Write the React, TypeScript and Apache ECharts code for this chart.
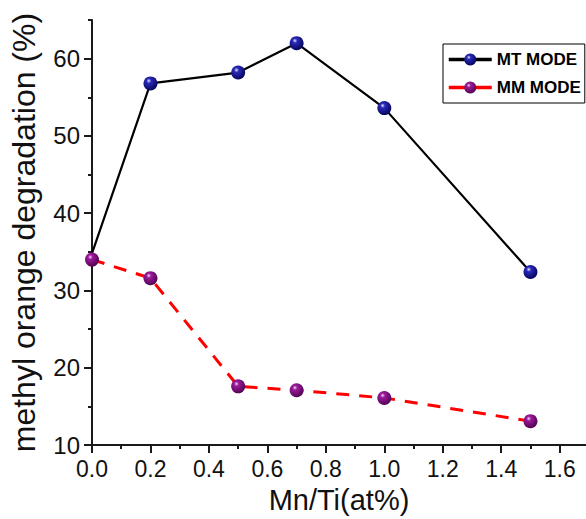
import React, { useEffect, useRef } from "react";
import * as echarts from "echarts";

const mtName = "MT MODE";
const mmName = "MM MODE";
const xValues = [0, 0.2, 0.5, 0.7, 1.0, 1.5];
const mtValues = [34.8, 56.8, 58.2, 62.0, 53.6, 32.4];
const mmValues = [34.0, 31.6, 17.6, 17.1, 16.1, 13.1];
const xMajorTicks = [0, 0.2, 0.4, 0.6, 0.8, 1.0, 1.2, 1.4, 1.6];
const xMinorTicks = [0.1, 0.3, 0.5, 0.7, 0.9, 1.1, 1.3, 1.5];
const yMajorTicks = [10, 20, 30, 40, 50, 60];
const yMinorTicks = [15, 25, 35, 45, 55, 65];

const FONT = 'Arial, "Liberation Sans", sans-serif';

export default function App() {
  const ref = useRef<HTMLDivElement>(null);
  useEffect(() => {
    document.body.style.margin = "0";
    const chart = echarts.init(ref.current!, null, { renderer: "svg" });
    const ball = (hi: string, mid: string, dark: string) =>
      new echarts.graphic.RadialGradient(0.38, 0.32, 0.75, [
        { offset: 0, color: hi },
        { offset: 0.22, color: mid },
        { offset: 1, color: dark },
      ]);
    const mtBall = ball("#e6e6ff", "#2a2ab8", "#000050");
    const mmBall = ball("#f4d8f4", "#9a1a9a", "#4a004a");
    const axisColor = "#1a1a1a";
    const xCommon = {
      type: "value" as const,
      min: 0,
      max: 1.69,
      position: "bottom" as const,
      splitLine: { show: false },
    };
    const yCommon = {
      type: "value" as const,
      min: 10,
      max: 65,
      position: "left" as const,
      splitLine: { show: false },
    };
    chart.setOption({
      animation: false,
      backgroundColor: "#ffffff",
      grid: { left: 90, right: 0, top: 20, bottom: 73 },
      legend: {
        orient: "vertical",
        left: 443,
        top: 44,
        padding: [7, 4, 7, 4],
        itemGap: 11,
        itemWidth: 43,
        itemHeight: 15,
        borderColor: "#000",
        borderWidth: 1,
        backgroundColor: "#fff",
        lineStyle: { width: 3.5, type: "solid" },
        textStyle: { fontFamily: FONT, fontSize: 17, fontWeight: "bold", color: "#000" },
        data: [
          { name: mtName, lineStyle: { type: "solid", color: "#000", width: 3.5 } },
          { name: mmName, lineStyle: { type: "solid", color: "#ff0000", width: 3.5 } },
        ],
      },
      xAxis: [
        {
          ...xCommon,
          name: "Mn/Ti(at%)",
          nameLocation: "middle",
          nameGap: 33,
          nameTextStyle: { fontFamily: FONT, fontSize: 29, color: "#111" },
          axisLine: { show: true, lineStyle: { color: axisColor, width: 2 } },
          axisTick: { show: true, length: 8, customValues: xMajorTicks, lineStyle: { color: axisColor, width: 2 } },
          axisLabel: {
            customValues: xMajorTicks,
            margin: 12,
            fontFamily: FONT,
            fontSize: 23,
            color: "#111",
            formatter: (v: number) => v.toFixed(1),
          },
        },
        {
          ...xCommon,
          axisLine: { show: false },
          axisTick: { show: true, length: 4, customValues: xMinorTicks, lineStyle: { color: axisColor, width: 2 } },
          axisLabel: { show: false },
        },
      ],
      yAxis: [
        {
          ...yCommon,
          name: "methyl orange degradation (%)",
          nameLocation: "middle",
          nameGap: 52,
          nameTextStyle: { fontFamily: FONT, fontSize: 32, color: "#111" },
          axisLine: { show: true, lineStyle: { color: axisColor, width: 2 } },
          axisTick: { show: true, length: 8, customValues: yMajorTicks, lineStyle: { color: axisColor, width: 2 } },
          axisLabel: {
            customValues: yMajorTicks,
            margin: 12,
            fontFamily: FONT,
            fontSize: 24,
            color: "#111",
          },
        },
        {
          ...yCommon,
          axisLine: { show: false },
          axisTick: { show: true, length: 4, customValues: yMinorTicks, lineStyle: { color: axisColor, width: 2 } },
          axisLabel: { show: false },
        },
      ],
      series: [
        {
          name: mtName,
          type: "line",
          xAxisIndex: 0,
          yAxisIndex: 0,
          data: xValues.map((x, i) =>
            i === 0 ? { value: [x, mtValues[i]], symbol: "none" } : [x, mtValues[i]]
          ),
          symbol: "circle",
          symbolSize: 14,
          lineStyle: { color: "#000", width: 2.2 },
          itemStyle: { color: mtBall },
          z: 2,
        },
        {
          name: mmName,
          type: "line",
          xAxisIndex: 0,
          yAxisIndex: 0,
          data: xValues.map((x, i) => [x, mmValues[i]]),
          symbol: "circle",
          symbolSize: 14,
          lineStyle: { color: "#ff0000", width: 3, type: [13, 10] },
          itemStyle: { color: mmBall },
          z: 3,
        },
      ],
    });
    return () => chart.dispose();
  }, []);
  return <div ref={ref} style={{ width: 586, height: 519 }} />;
}
